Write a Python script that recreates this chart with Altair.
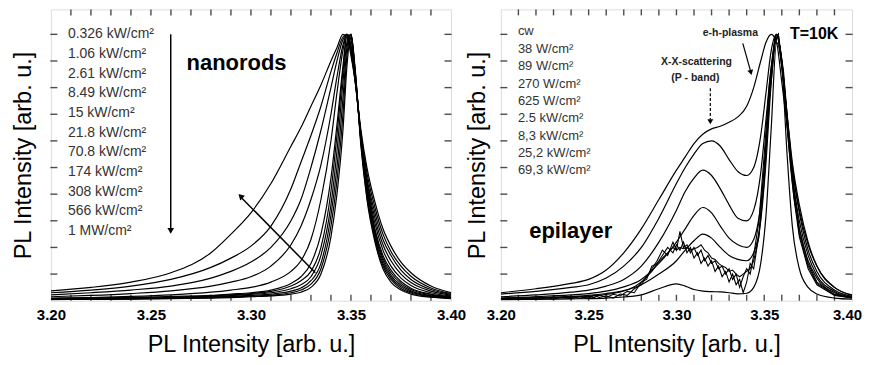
import altair as alt
import pandas as pd

# ---------------- nanorods (left panel) ----------------
NR_E = [3.200, 3.220, 3.240, 3.260, 3.280, 3.290, 3.300, 3.310, 3.320, 3.325,
        3.330, 3.335, 3.340, 3.343, 3.346, 3.348, 3.350, 3.352, 3.355, 3.358,
        3.362, 3.366, 3.370, 3.375, 3.380, 3.390, 3.400]
NR_LABELS = ["0.326 kW/cm²", "1.06 kW/cm²", "2.61 kW/cm²", "8.49 kW/cm²", "15 kW/cm²",
             "21.8 kW/cm²", "70.8 kW/cm²", "174 kW/cm²", "308 kW/cm²", "566 kW/cm²",
             "1 MW/cm²"]
NR_0326 = [0.004, 0.005, 0.006, 0.008, 0.010, 0.012, 0.015, 0.018, 0.025, 0.032, 0.050, 0.100, 0.240, 0.400, 0.640, 0.880, 1.000, 0.880, 0.580, 0.380, 0.220, 0.120, 0.070, 0.040, 0.025, 0.013, 0.008]
NR_106 = [0.005, 0.006, 0.007, 0.009, 0.012, 0.014, 0.017, 0.021, 0.030, 0.040, 0.062, 0.120, 0.280, 0.450, 0.700, 0.920, 1.000, 0.870, 0.590, 0.390, 0.230, 0.130, 0.080, 0.046, 0.029, 0.015, 0.009]
NR_261 = [0.006, 0.007, 0.008, 0.010, 0.014, 0.016, 0.020, 0.025, 0.036, 0.048, 0.075, 0.140, 0.320, 0.500, 0.760, 0.950, 1.000, 0.870, 0.600, 0.400, 0.240, 0.140, 0.088, 0.052, 0.033, 0.017, 0.010]
NR_849 = [0.006, 0.008, 0.009, 0.012, 0.016, 0.019, 0.024, 0.030, 0.045, 0.060, 0.090, 0.170, 0.360, 0.560, 0.820, 0.970, 1.000, 0.860, 0.600, 0.410, 0.250, 0.150, 0.095, 0.058, 0.037, 0.019, 0.011]
NR_15 = [0.007, 0.009, 0.011, 0.014, 0.018, 0.022, 0.027, 0.035, 0.055, 0.075, 0.110, 0.200, 0.410, 0.620, 0.860, 0.990, 0.990, 0.860, 0.610, 0.420, 0.260, 0.160, 0.105, 0.065, 0.042, 0.022, 0.013]
NR_218 = [0.008, 0.010, 0.012, 0.016, 0.020, 0.025, 0.030, 0.040, 0.065, 0.090, 0.140, 0.250, 0.460, 0.660, 0.880, 1.000, 0.980, 0.850, 0.610, 0.430, 0.270, 0.170, 0.115, 0.072, 0.047, 0.025, 0.015]
NR_708 = [0.010, 0.012, 0.016, 0.022, 0.032, 0.040, 0.050, 0.070, 0.110, 0.150, 0.230, 0.380, 0.600, 0.780, 0.940, 1.000, 0.960, 0.850, 0.620, 0.440, 0.290, 0.190, 0.130, 0.085, 0.057, 0.030, 0.018]
NR_174 = [0.015, 0.020, 0.027, 0.037, 0.055, 0.070, 0.090, 0.130, 0.210, 0.280, 0.380, 0.510, 0.700, 0.840, 0.960, 1.000, 0.950, 0.840, 0.620, 0.450, 0.310, 0.210, 0.150, 0.100, 0.068, 0.036, 0.021]
NR_308 = [0.022, 0.030, 0.040, 0.055, 0.085, 0.110, 0.145, 0.200, 0.300, 0.380, 0.500, 0.640, 0.800, 0.900, 0.980, 1.000, 0.940, 0.830, 0.620, 0.460, 0.330, 0.230, 0.170, 0.115, 0.080, 0.042, 0.024]
NR_566 = [0.030, 0.040, 0.055, 0.080, 0.125, 0.160, 0.205, 0.280, 0.420, 0.520, 0.620, 0.730, 0.860, 0.930, 0.990, 1.000, 0.930, 0.830, 0.630, 0.480, 0.350, 0.250, 0.185, 0.130, 0.092, 0.048, 0.027]
NR_1M = [0.037, 0.050, 0.070, 0.105, 0.180, 0.250, 0.330, 0.440, 0.580, 0.650, 0.730, 0.810, 0.900, 0.950, 1.000, 0.990, 0.920, 0.830, 0.640, 0.500, 0.370, 0.270, 0.205, 0.145, 0.105, 0.055, 0.030]
NR_SERIES = [NR_0326, NR_106, NR_261, NR_849, NR_15, NR_218, NR_708, NR_174, NR_308, NR_566, NR_1M]

# ---------------- epilayer (right panel) ----------------
EP_E = [3.200, 3.220, 3.240, 3.250, 3.260, 3.270, 3.280, 3.290, 3.300, 3.305,
        3.310, 3.315, 3.320, 3.325, 3.330, 3.335, 3.340, 3.344, 3.348, 3.351,
        3.354, 3.357, 3.360, 3.363, 3.366, 3.370, 3.375, 3.380, 3.390, 3.400]
EP_LABELS = ["cw", "38 W/cm²", "89 W/cm²", "270 W/cm²", "625 W/cm²", "2.5 kW/cm²",
             "8,3 kW/cm²", "25,2 kW/cm²", "69,3 kW/cm²"]
EP_CW = [0.004, 0.005, 0.007, 0.008, 0.010, 0.014, 0.022, 0.045, 0.063, 0.055, 0.042, 0.036, 0.034, 0.033, 0.030, 0.026, 0.028, 0.050, 0.140, 0.320, 0.650, 0.970, 0.880, 0.550, 0.280, 0.120, 0.050, 0.025, 0.010, 0.006]
EP_625 = [0.008, 0.011, 0.016, 0.020, 0.027, 0.038, 0.060, 0.100, 0.150, 0.190, 0.225, 0.250, 0.235, 0.200, 0.170, 0.155, 0.150, 0.180, 0.300, 0.520, 0.820, 1.000, 0.900, 0.660, 0.440, 0.270, 0.150, 0.085, 0.030, 0.012]
EP_2K5 = [0.010, 0.015, 0.022, 0.027, 0.036, 0.052, 0.080, 0.140, 0.220, 0.270, 0.320, 0.350, 0.330, 0.280, 0.235, 0.210, 0.200, 0.230, 0.360, 0.580, 0.850, 1.000, 0.900, 0.680, 0.470, 0.300, 0.170, 0.095, 0.035, 0.014]
EP_8K3 = [0.015, 0.022, 0.032, 0.040, 0.055, 0.080, 0.130, 0.220, 0.340, 0.410, 0.460, 0.490, 0.470, 0.420, 0.360, 0.310, 0.300, 0.340, 0.480, 0.680, 0.880, 1.000, 0.900, 0.700, 0.500, 0.330, 0.190, 0.110, 0.040, 0.016]
EP_25K = [0.025, 0.035, 0.050, 0.060, 0.085, 0.130, 0.200, 0.310, 0.440, 0.500, 0.550, 0.590, 0.600, 0.580, 0.530, 0.485, 0.470, 0.500, 0.620, 0.780, 0.940, 1.000, 0.880, 0.700, 0.520, 0.360, 0.220, 0.130, 0.050, 0.020]
EP_69K = [0.030, 0.045, 0.065, 0.080, 0.115, 0.180, 0.270, 0.380, 0.490, 0.540, 0.590, 0.625, 0.645, 0.655, 0.670, 0.690, 0.730, 0.800, 0.900, 0.970, 1.000, 0.970, 0.820, 0.660, 0.500, 0.340, 0.210, 0.130, 0.050, 0.022]

# noisy low-power spectra
EPN_E = [3.200, 3.210, 3.220, 3.230, 3.240, 3.245, 3.250, 3.253, 3.256, 3.260,
         3.264, 3.268, 3.272, 3.276, 3.280, 3.283, 3.286, 3.289, 3.292, 3.295,
         3.298, 3.300, 3.302, 3.304, 3.306, 3.308, 3.310, 3.312, 3.314, 3.316,
         3.318, 3.320, 3.322, 3.324, 3.326, 3.328, 3.330, 3.332, 3.334, 3.336,
         3.338, 3.340, 3.342, 3.344, 3.347, 3.350, 3.353, 3.356, 3.358, 3.361,
         3.364, 3.367, 3.370, 3.375, 3.380, 3.390, 3.400]
EP_38 = [0.006, 0.012, 0.005, 0.014, 0.008, 0.016, 0.010, 0.020, 0.012, 0.018,
         0.010, 0.025, 0.020, 0.045, 0.060, 0.090, 0.120, 0.150, 0.190, 0.170,
         0.220, 0.190, 0.260, 0.200, 0.210, 0.180, 0.200, 0.170, 0.190, 0.150,
         0.170, 0.140, 0.150, 0.120, 0.130, 0.100, 0.120, 0.080, 0.100, 0.050,
         0.090, 0.120, 0.100, 0.170, 0.300, 0.550, 0.820, 0.980, 1.000, 0.820,
         0.580, 0.380, 0.240, 0.120, 0.060, 0.020, 0.010]
EP_89 = [0.010, 0.006, 0.015, 0.007, 0.017, 0.009, 0.018, 0.011, 0.022, 0.012,
         0.024, 0.018, 0.035, 0.030, 0.070, 0.080, 0.130, 0.140, 0.170, 0.200,
         0.180, 0.210, 0.190, 0.220, 0.180, 0.200, 0.160, 0.180, 0.140, 0.160,
         0.130, 0.150, 0.110, 0.130, 0.090, 0.110, 0.070, 0.100, 0.060, 0.080,
         0.030, 0.070, 0.140, 0.120, 0.250, 0.500, 0.800, 0.970, 1.000, 0.840,
         0.600, 0.400, 0.250, 0.130, 0.065, 0.022, 0.010]
EP_270 = [0.007, 0.010, 0.009, 0.013, 0.012, 0.016, 0.015, 0.020, 0.019, 0.024,
          0.027, 0.033, 0.040, 0.052, 0.070, 0.090, 0.110, 0.140, 0.160, 0.180,
          0.200, 0.190, 0.200, 0.195, 0.200, 0.190, 0.195, 0.200, 0.210, 0.190,
          0.180, 0.160, 0.155, 0.140, 0.130, 0.125, 0.110, 0.115, 0.100, 0.090,
          0.100, 0.110, 0.120, 0.150, 0.240, 0.450, 0.760, 0.960, 1.000, 0.860,
          0.620, 0.420, 0.270, 0.140, 0.070, 0.024, 0.011]

X_LABELS = [3.20, 3.25, 3.30, 3.35, 3.40]
X_MINOR = [round(3.21 + 0.01 * k, 2) for k in range(19)]
Y_TICKS = [round(0.1 * k, 1) for k in range(1, 11)]

YMAX = 1.0936
H = 292
FONT = "Liberation Sans"


def long_df(e, series, names):
    rows = []
    for name, vals in zip(names, series):
        for ev, iv in zip(e, vals):
            rows.append({"E": ev, "I": iv, "s": name})
    return pd.DataFrame(rows)


def encodings(title_pad, last_shift=0):
    label_offset = {"condition": {"test": "datum.value > 3.395", "value": last_shift}, "value": 0}
    x = alt.X("E:Q", scale=alt.Scale(domain=[3.2, 3.4], nice=False, zero=False),
              axis=alt.Axis(values=X_LABELS, format=".2f", ticks=False, domain=False, grid=False,
                            labelFlush=False, labelFont=FONT, labelFontSize=15,
                            labelFontWeight="bold", labelColor="black", labelPadding=7,
                            labelOffset=label_offset,
                            title="PL Intensity [arb. u.]", titleFont=FONT, titleFontSize=23.5,
                            titleFontWeight="normal", titleColor="black", titlePadding=10))
    y = alt.Y("I:Q", scale=alt.Scale(domain=[0, YMAX], nice=False),
              axis=alt.Axis(labels=False, ticks=False, domain=False, grid=False,
                            title="PL Intensity [arb. u.]", titleFont=FONT, titleFontSize=23.5,
                            titleFontWeight="normal", titleColor="black", titlePadding=title_pad))
    return x, y


def frame_ticks(w, x, y):
    xt = pd.DataFrame({"E": X_MINOR})
    yt = pd.DataFrame({"I": Y_TICKS})
    top = alt.Chart(xt).mark_tick(color="black", size=6, thickness=1.4, orient="vertical").encode(
        x=x, y=alt.value(3))
    bottom = alt.Chart(xt).mark_tick(color="black", size=6, thickness=1.4, orient="vertical").encode(
        x=x, y=alt.value(H - 3))
    left = alt.Chart(yt).mark_tick(color="black", size=7, thickness=1.4, orient="horizontal").encode(
        y=y, x=alt.value(3))
    right = alt.Chart(yt).mark_tick(color="black", size=7, thickness=1.4, orient="horizontal").encode(
        y=y, x=alt.value(w - 3))
    return [top, bottom, left, right]


def text_layer(df, x, y, size, weight="normal", color="black", align="left"):
    return alt.Chart(df).mark_text(font=FONT, fontSize=size, fontWeight=weight, color=color,
                                   align=align, baseline="middle").encode(x=x, y=y, text="t:N")


# ---------- left panel ----------
WL = 401
xl, yl = encodings(15)
nr_df = long_df(NR_E, NR_SERIES, NR_LABELS)
nr_lines = alt.Chart(nr_df).mark_line(color="black", strokeWidth=1.2, clip=True,
                                      interpolate="monotone").encode(x=xl, y=yl, detail="s:N")
nr_leg = pd.DataFrame({"t": NR_LABELS, "E": [3.2085] * len(NR_LABELS),
                       "I": [1.0 - 0.0738 * k for k in range(len(NR_LABELS))]})
nr_title = pd.DataFrame({"t": ["nanorods"], "E": [3.2928], "I": [0.891]})
v_arrow = pd.DataFrame({"E": [3.2599], "I": [1.0], "I2": [0.27]})
v_head = pd.DataFrame({"E": [3.2599], "I": [0.262]})
d_arrow = pd.DataFrame({"E": [3.3322, 3.2955], "I": [0.105, 0.385], "o": [0, 1]})
d_head = pd.DataFrame({"E": [3.2948], "I": [0.393]})

left = alt.layer(
    nr_lines,
    text_layer(nr_leg, xl, yl, 14, color="#333333"),
    text_layer(nr_title, xl, yl, 22, weight="bold", align="center"),
    alt.Chart(v_arrow).mark_rule(color="black", strokeWidth=1.5).encode(x=xl, y=yl, y2="I2:Q"),
    alt.Chart(v_head).mark_point(shape="triangle-down", filled=True, size=45, color="black",
                                 opacity=1).encode(x=xl, y=yl),
    alt.Chart(d_arrow).mark_line(color="black", strokeWidth=1.5).encode(x=xl, y=yl, order="o:Q"),
    alt.Chart(d_head).mark_point(shape="triangle-up", filled=True, size=45, color="black",
                                 opacity=1, angle=315).encode(x=xl, y=yl),
    *frame_ticks(WL, xl, yl),
).properties(width=WL, height=H)

# ---------- right panel ----------
WR = 352
xr, yr = encodings(11, last_shift=-5)
ep_df = long_df(EP_E, [EP_CW, EP_625, EP_2K5, EP_8K3, EP_25K, EP_69K],
                ["cw", "625", "2.5k", "8.3k", "25.2k", "69.3k"])
epn_df = long_df(EPN_E, [EP_38, EP_89, EP_270], ["38", "89", "270"])
ep_lines = alt.Chart(ep_df).mark_line(color="black", strokeWidth=1.2, clip=True,
                                      interpolate="monotone").encode(x=xr, y=yr, detail="s:N")
epn_lines = alt.Chart(epn_df).mark_line(color="black", strokeWidth=1.1, clip=True).encode(
    x=xr, y=yr, detail="s:N")
ep_leg = pd.DataFrame({"t": EP_LABELS, "E": [3.2097] * len(EP_LABELS),
                       "I": [1.011 - 0.0652 * k for k in range(len(EP_LABELS))]})
ep_title = pd.DataFrame({"t": ["epilayer"], "E": [3.2398], "I": [0.262]})
ep_T = pd.DataFrame({"t": ["T=10K"], "E": [3.3784], "I": [1.0]})
ep_notes = pd.DataFrame({"t": ["e-h-plasma", "X-X-scattering", "(P - band)"],
                         "E": [3.3307, 3.3114, 3.3108], "I": [1.004, 0.895, 0.835]})
xx_arrow = pd.DataFrame({"E": [3.3193], "I": [0.798], "I2": [0.68]})
xx_head = pd.DataFrame({"E": [3.3193], "I": [0.672]})
eh_arrow = pd.DataFrame({"E": [3.3378, 3.3421], "I": [0.966, 0.865], "o": [0, 1]})
eh_head = pd.DataFrame({"E": [3.3424], "I": [0.857]})

right = alt.layer(
    ep_lines,
    epn_lines,
    text_layer(ep_leg, xr, yr, 13, color="#333333"),
    text_layer(ep_title, xr, yr, 22, weight="bold", align="center"),
    text_layer(ep_T, xr, yr, 16, weight="bold", align="center"),
    text_layer(ep_notes, xr, yr, 10.5, weight="bold", color="#222222", align="center"),
    alt.Chart(xx_arrow).mark_rule(color="black", strokeWidth=1.2, strokeDash=[3, 2]).encode(
        x=xr, y=yr, y2="I2:Q"),
    alt.Chart(xx_head).mark_point(shape="triangle-down", filled=True, size=35, color="black",
                                  opacity=1).encode(x=xr, y=yr),
    alt.Chart(eh_arrow).mark_line(color="black", strokeWidth=1.2).encode(x=xr, y=yr, order="o:Q"),
    alt.Chart(eh_head).mark_point(shape="triangle-down", filled=True, size=35, color="black",
                                  opacity=1, angle=345).encode(x=xr, y=yr),
    *frame_ticks(WR, xr, yr),
).properties(width=WR, height=H)

chart = alt.hconcat(left, right, spacing=50, bounds="flush").properties(
    padding={"left": 3, "top": 0, "right": 0, "bottom": 0}
).configure_view(stroke="black", strokeWidth=2).configure(background="white")

chart.save("out.html", embed_options={"renderer": "svg", "actions": False})
